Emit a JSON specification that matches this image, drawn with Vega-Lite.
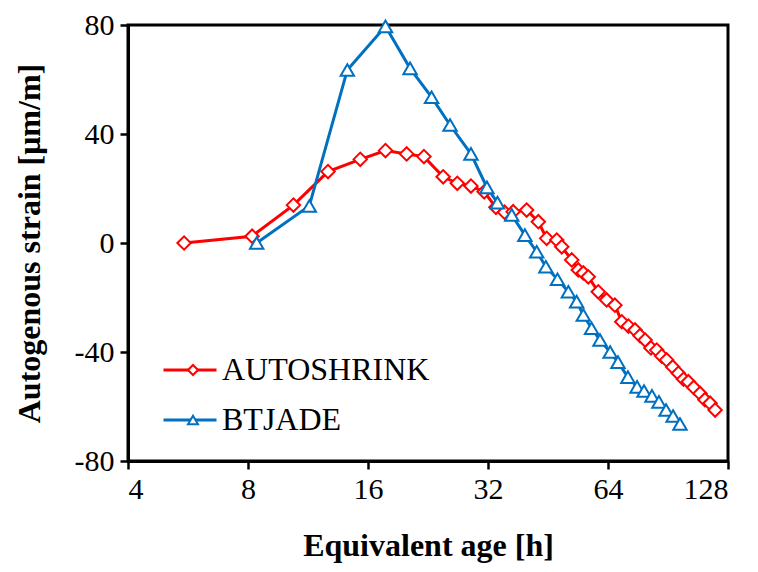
{
  "$schema": "https://vega.github.io/schema/vega-lite/v6.json",
  "autosize": "none",
  "width": 600,
  "height": 436,
  "padding": {"left": 128, "top": 25, "right": 30, "bottom": 111},
  "background": "white",
  "config": {
    "font": "Liberation Serif",
    "view": {"stroke": "black", "strokeWidth": 3},
    "axis": {
      "grid": false,
      "domainColor": "black",
      "domainWidth": 3,
      "tickColor": "black",
      "tickWidth": 2.5,
      "tickSize": 8,
      "labelFont": "Liberation Serif",
      "labelFontSize": 30,
      "labelColor": "black",
      "titleFont": "Liberation Serif",
      "titleFontSize": 32,
      "titleFontWeight": "bold",
      "titleColor": "black"
    }
  },
  "data": {
    "values": [
      {"series": "AUTOSHRINK", "age": 5.53, "strain": 0},
      {"series": "AUTOSHRINK", "age": 8.19, "strain": 2.5},
      {"series": "AUTOSHRINK", "age": 10.4, "strain": 13.9},
      {"series": "AUTOSHRINK", "age": 12.7, "strain": 26.2},
      {"series": "AUTOSHRINK", "age": 15.3, "strain": 30.7},
      {"series": "AUTOSHRINK", "age": 17.7, "strain": 33.9},
      {"series": "AUTOSHRINK", "age": 20.0, "strain": 32.7},
      {"series": "AUTOSHRINK", "age": 22.1, "strain": 31.7},
      {"series": "AUTOSHRINK", "age": 24.7, "strain": 24.3},
      {"series": "AUTOSHRINK", "age": 26.8, "strain": 21.9},
      {"series": "AUTOSHRINK", "age": 29.0, "strain": 20.9},
      {"series": "AUTOSHRINK", "age": 31.3, "strain": 18.8},
      {"series": "AUTOSHRINK", "age": 33.5, "strain": 13.1},
      {"series": "AUTOSHRINK", "age": 35.2, "strain": 11.3},
      {"series": "AUTOSHRINK", "age": 37.0, "strain": 11.5},
      {"series": "AUTOSHRINK", "age": 40.0, "strain": 12.1},
      {"series": "AUTOSHRINK", "age": 42.8, "strain": 7.8},
      {"series": "AUTOSHRINK", "age": 44.9, "strain": 1.7},
      {"series": "AUTOSHRINK", "age": 47.6, "strain": 1.1},
      {"series": "AUTOSHRINK", "age": 49.0, "strain": -1.4},
      {"series": "AUTOSHRINK", "age": 51.9, "strain": -6.2},
      {"series": "AUTOSHRINK", "age": 53.9, "strain": -9.9},
      {"series": "AUTOSHRINK", "age": 55.5, "strain": -11.0},
      {"series": "AUTOSHRINK", "age": 57.1, "strain": -12.4},
      {"series": "AUTOSHRINK", "age": 60.5, "strain": -17.9},
      {"series": "AUTOSHRINK", "age": 63.5, "strain": -20.9},
      {"series": "AUTOSHRINK", "age": 66.6, "strain": -22.8},
      {"series": "AUTOSHRINK", "age": 69.3, "strain": -28.9},
      {"series": "AUTOSHRINK", "age": 72.0, "strain": -30.5},
      {"series": "AUTOSHRINK", "age": 74.8, "strain": -31.9},
      {"series": "AUTOSHRINK", "age": 77.0, "strain": -34.0},
      {"series": "AUTOSHRINK", "age": 79.3, "strain": -35.6},
      {"series": "AUTOSHRINK", "age": 82.0, "strain": -38.5},
      {"series": "AUTOSHRINK", "age": 84.8, "strain": -39.3},
      {"series": "AUTOSHRINK", "age": 87.3, "strain": -41.5},
      {"series": "AUTOSHRINK", "age": 89.8, "strain": -42.9},
      {"series": "AUTOSHRINK", "age": 93.0, "strain": -45.5},
      {"series": "AUTOSHRINK", "age": 96.1, "strain": -47.8},
      {"series": "AUTOSHRINK", "age": 99.0, "strain": -50.0},
      {"series": "AUTOSHRINK", "age": 101.8, "strain": -50.9},
      {"series": "AUTOSHRINK", "age": 105.0, "strain": -53.0},
      {"series": "AUTOSHRINK", "age": 108.9, "strain": -55.2},
      {"series": "AUTOSHRINK", "age": 112.0, "strain": -57.5},
      {"series": "AUTOSHRINK", "age": 115.4, "strain": -58.8},
      {"series": "AUTOSHRINK", "age": 118.8, "strain": -61.3},
      {"series": "BTJADE", "age": 8.41, "strain": 0},
      {"series": "BTJADE", "age": 11.4, "strain": 13.6},
      {"series": "BTJADE", "age": 14.2, "strain": 63.5},
      {"series": "BTJADE", "age": 17.7, "strain": 79.5},
      {"series": "BTJADE", "age": 20.4, "strain": 64.1},
      {"series": "BTJADE", "age": 23.1, "strain": 53.5},
      {"series": "BTJADE", "age": 25.7, "strain": 43.3},
      {"series": "BTJADE", "age": 29.0, "strain": 32.7},
      {"series": "BTJADE", "age": 31.8, "strain": 20.4},
      {"series": "BTJADE", "age": 33.8, "strain": 14.8},
      {"series": "BTJADE", "age": 36.7, "strain": 10.3},
      {"series": "BTJADE", "age": 39.6, "strain": 2.9},
      {"series": "BTJADE", "age": 42.4, "strain": -3.2},
      {"series": "BTJADE", "age": 44.7, "strain": -8.7},
      {"series": "BTJADE", "age": 47.8, "strain": -13.3},
      {"series": "BTJADE", "age": 50.9, "strain": -17.9},
      {"series": "BTJADE", "age": 53.4, "strain": -21.5},
      {"series": "BTJADE", "age": 55.5, "strain": -26.4},
      {"series": "BTJADE", "age": 58.2, "strain": -31.3},
      {"series": "BTJADE", "age": 61.1, "strain": -35.6},
      {"series": "BTJADE", "age": 64.8, "strain": -40.0},
      {"series": "BTJADE", "age": 67.8, "strain": -43.7},
      {"series": "BTJADE", "age": 71.8, "strain": -49.2},
      {"series": "BTJADE", "age": 75.7, "strain": -52.8},
      {"series": "BTJADE", "age": 78.8, "strain": -54.3},
      {"series": "BTJADE", "age": 82.5, "strain": -56.1},
      {"series": "BTJADE", "age": 85.9, "strain": -58.3},
      {"series": "BTJADE", "age": 89.5, "strain": -61.3},
      {"series": "BTJADE", "age": 93.2, "strain": -63.5},
      {"series": "BTJADE", "age": 97.0, "strain": -66.4}
    ]
  },
  "encoding": {
    "x": {
      "field": "age",
      "type": "quantitative",
      "scale": {"type": "log", "base": 2, "domain": [4, 128], "nice": false},
      "axis": {
        "title": "Equivalent age [h]",
        "values": [4, 8, 16, 32, 64, 128],
        "labelExpr": "'' + datum.value",
        "labelPadding": 5,
        "titlePadding": 26
      }
    },
    "y": {
      "field": "strain",
      "type": "quantitative",
      "scale": {"domain": [-80, 80], "nice": false},
      "axis": {
        "title": "Autogenous strain [μm/m]",
        "values": [-80, -40, 0, 40, 80],
        "labelExpr": "'' + datum.value",
        "labelPadding": 6,
        "titlePadding": 28
      }
    }
  },
  "layer": [
    {
      "mark": {"type": "line", "strokeWidth": 3},
      "encoding": {
        "color": {
          "field": "series",
          "type": "nominal",
          "scale": {"domain": ["AUTOSHRINK", "BTJADE"], "range": ["#FF0000", "#0070C0"]},
          "legend": {
            "orient": "none",
            "legendX": 34,
            "legendY": 317,
            "title": null,
            "padding": 0,
            "symbolType": "stroke",
            "symbolSize": 2809,
            "symbolStrokeWidth": 3,
            "labelFont": "Liberation Serif",
            "labelFontSize": 32,
            "labelColor": "black",
            "labelLimit": 400,
            "labelOffset": 4,
            "rowPadding": 6
          }
        }
      }
    },
    {
      "mark": {"type": "point", "filled": true, "fill": "white", "strokeWidth": 2, "size": 180, "opacity": 1},
      "encoding": {
        "stroke": {
          "field": "series",
          "type": "nominal",
          "scale": {"range": ["#FF0000", "#0070C0"]},
          "legend": {
            "orient": "none",
            "legendX": 34,
            "legendY": 329,
            "title": null,
            "padding": 0,
            "symbolSize": 100,
            "symbolStrokeWidth": 2,
            "symbolFillColor": "white",
            "symbolOffset": 15,
            "labelFont": "Liberation Serif",
            "labelFontSize": 32,
            "labelOpacity": 0,
            "labelLimit": 400,
            "labelOffset": 4,
            "rowPadding": 18
          }
        },
        "shape": {
          "field": "series",
          "type": "nominal",
          "scale": {"range": ["diamond", "triangle-up"]}
        }
      }
    }
  ]
}
